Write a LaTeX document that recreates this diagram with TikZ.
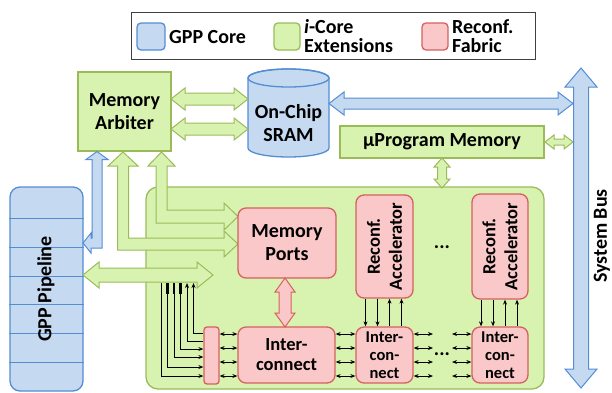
\documentclass[tikz,border=0pt]{standalone}
\usepackage{fontspec}
\setmainfont{Carlito}
\usetikzlibrary{arrows.meta}

\definecolor{gfill}{RGB}{216,243,176}
\definecolor{gline}{RGB}{155,187,89}
\definecolor{bfill}{RGB}{197,217,241}
\definecolor{bline}{RGB}{84,141,212}
\definecolor{rfill}{RGB}{250,200,200}
\definecolor{rline}{RGB}{214,96,96}

\tikzset{
  gbox/.style={draw=gline, fill=gfill, line width=1.3pt},
  bbox/.style={draw=bline, fill=bfill, line width=1.3pt},
  rbox/.style={draw=rline, fill=rfill, line width=1.3pt, rounded corners=8pt},
  lbl/.style={font=\fontsize{20}{23}\selectfont\bfseries, align=center, inner sep=0pt},
  lblsmall/.style={font=\fontsize{18.5}{20}\selectfont\bfseries, align=center, inner sep=0pt},
  lbltiny/.style={font=\fontsize{16.5}{18}\selectfont\bfseries, align=center, inner sep=0pt},
  lblacc/.style={font=\fontsize{18.5}{22}\selectfont\bfseries, align=center, inner sep=0pt, rotate=90},
  garrow/.style={draw=gline, fill=gfill, line width=1pt, line join=miter},
  barrow/.style={draw=bline, fill=bfill, line width=1pt, line join=miter},
  rarrow/.style={draw=rline, fill=rfill, line width=1pt, line join=miter},
  sigone/.style={line width=1pt, -{Stealth[length=5pt,width=4pt]}},
  sigtwo/.style={line width=1pt, {Stealth[length=5pt,width=4pt]}-{Stealth[length=5pt,width=4pt]}},
}

% fat double arrows: [style]{from}{to}{position}{shaft half}{head half}{head length}
\newcommand\fatH[7][]{%
  \draw[#1] (#2,#4) -- ({#2+#7},{#4-#6}) -- ({#2+#7},{#4-#5}) -- ({#3-#7},{#4-#5})
    -- ({#3-#7},{#4-#6}) -- (#3,#4) -- ({#3-#7},{#4+#6}) -- ({#3-#7},{#4+#5})
    -- ({#2+#7},{#4+#5}) -- ({#2+#7},{#4+#6}) -- cycle;}
\newcommand\fatV[7][]{%
  \draw[#1] (#4,#2) -- ({#4-#6},{#2+#7}) -- ({#4-#5},{#2+#7}) -- ({#4-#5},{#3-#7})
    -- ({#4-#6},{#3-#7}) -- (#4,#3) -- ({#4+#6},{#3-#7}) -- ({#4+#5},{#3-#7})
    -- ({#4+#5},{#2+#7}) -- ({#4+#6},{#2+#7}) -- cycle;}

\begin{document}
\begin{tikzpicture}[x=1pt,y=-1pt]
\useasboundingbox (0,0) rectangle (612,392);

% ---------- legend ----------
\node[draw=black!75, line width=1pt, minimum width=404pt, minimum height=47pt, inner sep=0pt] (legend) at (333,35.5) {};
\node[bbox, rounded corners=4pt, minimum width=28pt, minimum height=27pt, inner sep=0pt] (keyb) at (151,36.5) {};
\node[lbl, anchor=west] (keybt) at (169,37.5) {GPP Core};
\node[gbox, rounded corners=4pt, minimum width=26pt, minimum height=27pt, inner sep=0pt] (keyg) at (287,36.5) {};
\node[lbl, anchor=west, align=left, font=\fontsize{20}{19}\selectfont\bfseries] (keygt) at (304,36.5) {{\itshape i}-Core\\Extensions};
\node[rbox, rounded corners=4pt, minimum width=26pt, minimum height=27pt, inner sep=0pt] (keyr) at (435,36.5) {};
\node[lbl, anchor=west, align=left, font=\fontsize{20}{19}\selectfont\bfseries] (keyrt) at (452,36.5) {Reconf.\\Fabric};

% ---------- i-Core extension area ----------
\node[gbox, rounded corners=12pt, minimum width=398pt, minimum height=202pt, inner sep=0pt] (icore) at (345,288) {};

% ---------- memory arbiter ----------
\node[gbox, lbl, minimum width=93pt, minimum height=79pt] (arb) at (124.5,111.5) {Memory\\Arbiter};

% ---------- on-chip SRAM (cylinder) ----------
\draw[bbox] (248,78) -- (248,148) arc[start angle=180, end angle=0, x radius=40.5, y radius=9]
  -- (329,78) arc[start angle=0, end angle=-180, x radius=40.5, y radius=9] -- cycle;
\draw[bline, line width=1.3pt] (288.5,78) ellipse[x radius=40.5, y radius=9];
\node[lbl] (sram) at (288.5,123) {On-Chip\\SRAM};

% ---------- microprogram memory ----------
\node[gbox, lbl, minimum width=204pt, minimum height=32pt] (mpm) at (442,142) {µProgram Memory};

% ---------- GPP pipeline ----------
\node[bbox, rounded corners=10pt, minimum width=73pt, minimum height=204pt, inner sep=0pt] (pipe) at (46.5,289) {};
\foreach \y in {218,247,276,304,333,362}
  \draw[bline, line width=1pt] (pipe.west|-0,\y) -- (pipe.east|-0,\y);
\node[lbl, rotate=90] (pipet) at (46,289) {GPP Pipeline};

% ---------- wide connectors ----------
\fatH[garrow]{171}{248}{99}{6}{11}{14}
\fatH[garrow]{171}{248}{129}{6}{11}{14}
\fatH[barrow]{329}{573}{103.5}{5.5}{11.5}{15}
\fatH[garrow]{545}{573}{142}{3}{7}{9}
\fatV[garrow]{158}{188}{442}{4.5}{8}{9}
\fatV[barrow]{68}{388}{581}{7.5}{16}{19}
\node[lbl, rotate=90] (bust) at (602,236) {System Bus};

% arbiter <-> memory ports
\draw[garrow] (123,152) -- (138,166) -- (128.5,166) -- (128.5,238) -- (224,238) -- (224,231)
  -- (238,244) -- (224,257) -- (224,250) -- (117.5,250) -- (117.5,166) -- (108,166) -- cycle;
\draw[garrow] (161.5,152) -- (175,166) -- (167,166) -- (167,210) -- (224,210) -- (224,203)
  -- (238,216.5) -- (224,230) -- (224,223) -- (156,223) -- (156,166) -- (148,166) -- cycle;
% arbiter <-> pipeline
\draw[barrow] (97,151.5) -- (108,159.5) -- (102,159.5) -- (102,248) -- (91,248) -- (91,253)
  -- (83,243) -- (91,233) -- (91,238) -- (92,238) -- (92,159.5) -- (86,159.5) -- cycle;
% pipeline <-> extension area
\fatH[garrow]{83}{213}{275}{7}{13}{16}

% ---------- reconfigurable fabric ----------
\node[rbox, lbl, minimum width=98pt, minimum height=70pt] (mports) at (287,243) {Memory\\Ports};
\node[rbox, lblsmall, minimum width=97pt, minimum height=56pt] (ic1) at (286.5,355) {Inter-\\connect};
\fatV[rarrow]{278}{327}{285}{6}{10}{14}

\node[rbox, minimum width=57pt, minimum height=103pt] (acc1) at (384.5,246.5) {};
\node[lblacc] (acc1t) at (acc1) {Reconf.\\Accelerator};
\node[rbox, lbltiny, minimum width=57pt, minimum height=56pt] (ic2) at (384.5,355) {Inter-\\con-\\nect};
\node[rbox, minimum width=56pt, minimum height=105pt] (acc2) at (500,246.5) {};
\node[lblacc] (acc2t) at (acc2) {Reconf.\\Accelerator};
\node[rbox, lbltiny, minimum width=56pt, minimum height=56pt] (ic3) at (500,355) {Inter-\\con-\\nect};
\node[rbox, rounded corners=3pt, minimum width=15pt, minimum height=57pt, inner sep=0pt] (sbus) at (211.5,355.5) {};

\node[lbl] (dotsa) at (442,247) {...};
\node[lbl] (dotsb) at (442,354) {...};

% ---------- signal arrows ----------
\coordinate (gapL) at (433,355);
\coordinate (gapR) at (452,355);
\foreach \y in {334,348,362,376} {
  \draw[sigtwo] (sbus.east|-0,\y) -- (ic1.west|-0,\y);
  \draw[sigtwo] (ic1.east|-0,\y) -- (ic2.west|-0,\y);
  \draw[sigtwo] (ic2.east|-0,\y) -- (gapL|-0,\y);
  \draw[sigtwo] (gapR|-0,\y) -- (ic3.west|-0,\y);
}
\foreach \dx in {-19,-7} {
  \draw[sigone] ([xshift=\dx pt]acc1.south) -- ([xshift=\dx pt]ic2.north);
  \draw[sigone] ([xshift=\dx pt]acc2.south) -- ([xshift=\dx pt]ic3.north);
}
\foreach \dx in {5,17} {
  \draw[sigone] ([xshift=\dx pt]ic2.north) -- ([xshift=\dx pt]acc1.south);
  \draw[sigone] ([xshift=\dx pt]ic3.north) -- ([xshift=\dx pt]acc2.south);
}

% bundle from the pipeline connector into the fabric bus
\coordinate (ta) at (161,283);
\coordinate (tb) at (167.5,283);
\coordinate (tc) at (174,283);
\coordinate (td) at (180.5,283);
\coordinate (te) at (187,283);
\coordinate (tf) at (193.5,283);
\draw[sigone] (ta) |- (sbus.west|-0,376);
\draw[sigone] (tb) |- (sbus.west|-0,367);
\draw[sigone] (tc) |- (sbus.west|-0,357);
\draw[sigone] (td) |- (sbus.west|-0,349);
\draw[sigone] (sbus.west|-0,341) -| (te);
\draw[sigone] (sbus.west|-0,333) -| (tf);
\foreach \t in {tb,tc,td}
  \draw[line width=2.6pt] (\t) -- ++(0,11);

\end{tikzpicture}
\end{document}
